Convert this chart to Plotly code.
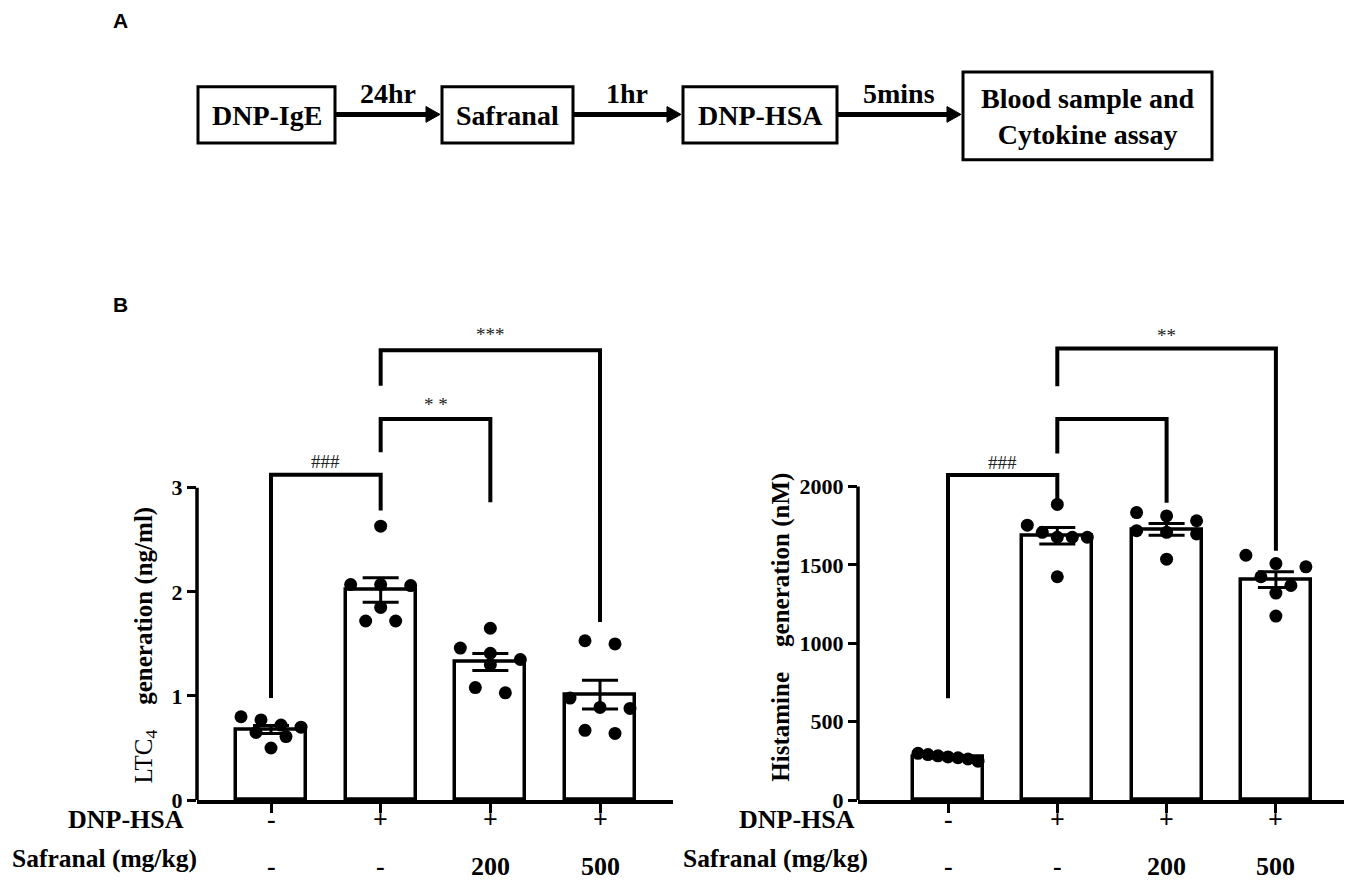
import numpy as np
import plotly.graph_objects as go

# page body keeps an 8px margin, so the figure sits 8px in and is 16px smaller
OFF = 8
W, H = 1352 - 2 * OFF, 893 - 2 * OFF

# ---- data -------------------------------------------------------------
dnp_hsa = ['-', '+', '+', '+']
safranal = ['-', '-', '200', '500']

ltc4_points = [
    [0.80, 0.77, 0.72, 0.70, 0.65, 0.61, 0.50],
    [2.63, 2.07, 2.07, 2.06, 1.85, 1.72, 1.72],
    [1.65, 1.46, 1.41, 1.35, 1.30, 1.08, 1.03],
    [1.53, 1.50, 0.98, 0.89, 0.88, 0.67, 0.64],
]
hist_points = [
    [298, 290, 282, 275, 270, 262, 248],
    [1885, 1753, 1707, 1676, 1676, 1676, 1424],
    [1833, 1812, 1781, 1718, 1707, 1697, 1536],
    [1561, 1508, 1487, 1424, 1368, 1320, 1173],
]

ltc4_ticks = [0, 1, 2, 3]
hist_ticks = [0, 500, 1000, 1500, 2000]

steps = ['DNP-IgE', 'Safranal', 'DNP-HSA', 'Blood sample and<br>Cytokine assay']
intervals = ['24hr', '1hr', '5mins']

# ---- layout constants (pixels in the 1352x893 picture) ----------------
SERIF = 'Liberation Serif'
SANS = 'Liberation Sans'


def fx(p):
    return (p - OFF) / W


def fy(p):
    return 1 - (p - OFF) / H


panels = {
    'left': dict(ax=197, x_end=673, c0=271, step=109.67, y0=812, ytop=300, pxpu=105.7),
    'right': dict(ax=858, x_end=1344, c0=948, step=109.3, y0=812, ytop=300, pxpu=318.4 / 2000),
}


def swarm(vals, pxpu, step_px, diam=13, spread=30, maxw=60):
    # group close values into rows and spread each row symmetrically
    order = sorted(vals, reverse=True)
    rows, cur = [], [order[0]]
    for v in order[1:]:
        if (cur[0] - v) * pxpu < diam:
            cur.append(v)
        else:
            rows.append(cur)
            cur = [v]
    rows.append(cur)
    xs, ys = [], []
    for r in rows:
        n = len(r)
        sp = spread if n < 2 else min(spread, maxw / (n - 1))
        for i, v in enumerate(r):
            xs.append((i - (n - 1) / 2) * sp / step_px)
            ys.append(v)
    return xs, ys


fig = go.Figure()


def add_panel(points, xa, ya, p):
    pts = [np.array(g, dtype=float) for g in points]
    means = [g.mean() for g in pts]
    sems = [g.std(ddof=1) / np.sqrt(len(g)) for g in pts]
    fig.add_trace(go.Bar(
        x=list(range(len(pts))), y=means, width=0.64,
        marker=dict(color='white', line=dict(color='black', width=3.5)),
        error_y=dict(type='data', array=sems, color='black', thickness=3, width=18),
        xaxis=xa, yaxis=ya, hoverinfo='skip'))
    for i, g in enumerate(pts):
        dx, yy = swarm(list(g), p['pxpu'], p['step'])
        fig.add_trace(go.Scatter(
            x=[i + d for d in dx], y=yy, mode='markers',
            marker=dict(color='black', size=13),
            xaxis=xa, yaxis=ya, cliponaxis=False, hoverinfo='skip'))


add_panel(ltc4_points, 'x', 'y', panels['left'])
add_panel(hist_points, 'x2', 'y2', panels['right'])

# significance brackets: (x0, x1, left foot, top, right foot, label, label y)
left_brackets = [
    (0, 1, 0.98, 3.125, 2.78, '###', 3.25),
    (1, 2, 3.34, 3.66, 2.86, '*\u00a0*', 3.80),
    (1, 3, 3.98, 4.32, 1.71, '***', 4.47),
]
right_brackets = [
    (0, 1, 650, 2073, 1890, '###', 2150),
    (1, 2, 2210, 2430, 1896, '', None),
    (1, 3, 2639, 2880, 1590, '**', 2960),
]

annotations = []


def note(text, x, y, size, xref='paper', yref='paper', family=SERIF, color='black', **kw):
    d = dict(x=x, y=y, xref=xref, yref=yref, text=text, showarrow=False,
             xanchor='center', yanchor='middle',
             font=dict(family=family, size=size, color=color))
    d.update(kw)
    annotations.append(d)


def add_brackets(brs, xa, ya):
    for x0, x1, lb, top, rb, lab, ly in brs:
        fig.add_trace(go.Scatter(
            x=[x0, x0, x1, x1], y=[lb, top, top, rb], mode='lines',
            line=dict(color='black', width=4), xaxis=xa, yaxis=ya, hoverinfo='skip'))
        if lab:
            note(lab, (x0 + x1) / 2, ly, 19, xref=xa, yref=ya, color='#222')


add_brackets(left_brackets, 'x', 'y')
add_brackets(right_brackets, 'x2', 'y2')


def axes(p, ticks, anchor):
    xr = [-(p['c0'] - p['ax']) / p['step'], (p['x_end'] - p['c0']) / p['step']]
    yr = [0, (p['y0'] - p['ytop']) / p['pxpu']]
    xaxis = dict(domain=[fx(p['ax']), min(1, fx(p['x_end']))], range=xr, showgrid=False,
                 zeroline=False, showline=True, linecolor='black', linewidth=3.5,
                 ticks='outside', ticklen=9, tickwidth=3, tickcolor='black',
                 tickvals=[0, 1, 2, 3], showticklabels=False, anchor='y' + anchor)
    yaxis = dict(domain=[fy(p['y0']), fy(p['ytop'])], range=yr, showgrid=False,
                 zeroline=False, showline=False, ticks='outside', ticklen=9,
                 tickwidth=3, tickcolor='black', tickvals=ticks, anchor='x' + anchor,
                 tickfont=dict(family=SERIF, size=22, color='black', weight='bold'))
    return xaxis, yaxis


xa1, ya1 = axes(panels['left'], ltc4_ticks, '')
xa2, ya2 = axes(panels['right'], hist_ticks, '2')

shapes = [
    dict(type='line', xref='x domain', yref='y', x0=0, x1=0, y0=0, y1=ltc4_ticks[-1],
         line=dict(color='black', width=3.5)),
    dict(type='line', xref='x2 domain', yref='y2', x0=0, x1=0, y0=0, y1=hist_ticks[-1],
         line=dict(color='black', width=3.5)),
]

# ---- panel A: protocol flow -------------------------------------------
boxes = [(198, 335, 88, 145), (442, 573, 88, 145), (683, 837, 88, 145), (963, 1212, 73, 162)]
for (x0, x1, y0, y1), txt in zip(boxes, steps):
    shapes.append(dict(type='rect', xref='paper', yref='paper', x0=fx(x0), x1=fx(x1),
                       y0=fy(y1), y1=fy(y0), line=dict(color='black', width=3)))
    note('<b>%s</b>' % txt, fx((x0 + x1) / 2), fy((y0 + y1) / 2 + 1), 28)

arrow_y = 116
for i, lab in enumerate(intervals):
    xa0 = boxes[i][1]
    xb = boxes[i + 1][0] - 2
    shapes.append(dict(type='line', xref='paper', yref='paper', x0=fx(xa0), x1=fx(xb - 10),
                       y0=fy(arrow_y), y1=fy(arrow_y), line=dict(color='black', width=5)))
    shapes.append(dict(type='path', xref='paper', yref='paper', fillcolor='black',
                       line=dict(color='black', width=1),
                       path='M %f %f L %f %f L %f %f Z' % (
                           fx(xb - 14), fy(arrow_y - 8), fx(xb), fy(arrow_y),
                           fx(xb - 14), fy(arrow_y + 8))))
    note('<b>%s</b>' % lab, fx((xa0 + xb) / 2), fy(95), 28)

note('<b>A</b>', fx(120), fy(21), 21, family=SANS)
note('<b>B</b>', fx(120), fy(309), 21, family=SANS)
note('LTC<sub>4</sub>\u00a0\u00a0\u00a0\u00a0<b>generation (ng/ml)</b>', fx(145), fy(655), 25,
     textangle=-90)
note('<b>Histamine\u00a0\u00a0\u00a0\u00a0generation (nM)</b>', fx(781), fy(637), 25,
     textangle=-90)

# treatment rows under each panel
for xa, lab_right in (('x', 199), ('x2', 870)):
    note('<b>DNP-HSA</b>', fx(lab_right - 13), fy(832), 26, xanchor='right')
    note('<b>Safranal (mg/kg)</b>', fx(lab_right), fy(871), 25.5, xanchor='right')
    for i in range(4):
        note('<b>%s</b>' % dnp_hsa[i], i, fy(832), 26, xref=xa)
        note('<b>%s</b>' % safranal[i], i, fy(879), 26, xref=xa)

fig.update_layout(
    width=W, height=H, margin=dict(l=0, r=0, t=0, b=0),
    paper_bgcolor='white', plot_bgcolor='white', showlegend=False,
    xaxis=xa1, yaxis=ya1, xaxis2=xa2, yaxis2=ya2,
    shapes=shapes, annotations=annotations, bargap=0,
)

fig.write_html("out.html")
